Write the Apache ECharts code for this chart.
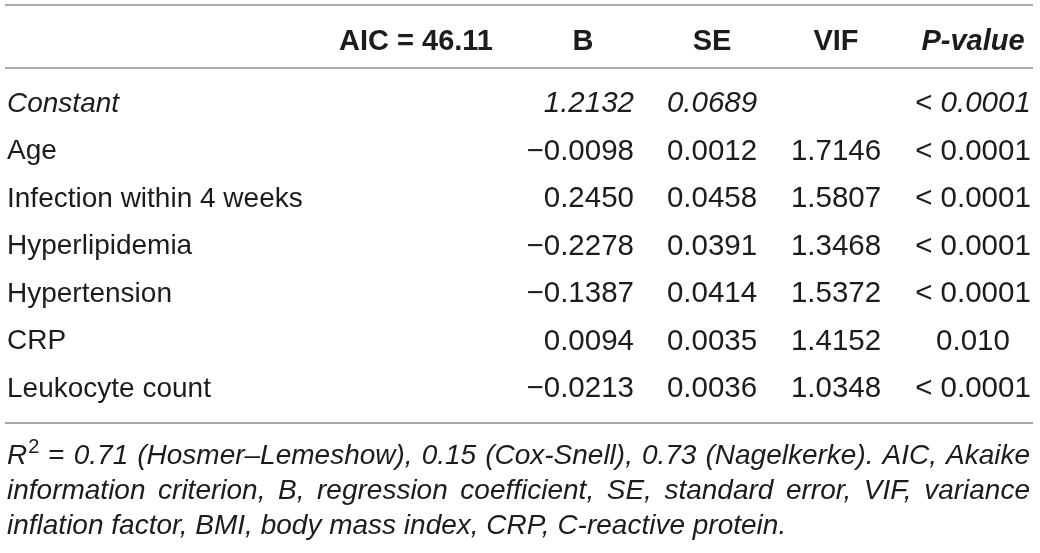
<!DOCTYPE html>
<html>
<head>
<meta charset="utf-8">
<script src="https://cdn.jsdelivr.net/npm/echarts@6/dist/echarts.min.js"></script>
<style>
html,body{margin:0;padding:0;background:#fff;}
#chart{width:1040px;height:553px;}
</style>
</head>
<body>
<div id="chart"></div>
<script>
// ---- Data ----
const rowLabels = ['Constant', 'Age', 'Infection within 4 weeks', 'Hyperlipidemia', 'Hypertension', 'CRP', 'Leukocyte count'];
const coefB = [1.2132, -0.0098, 0.2450, -0.2278, -0.1387, 0.0094, -0.0213];
const stdErr = [0.0689, 0.0012, 0.0458, 0.0391, 0.0414, 0.0035, 0.0036];
const vifValues = [null, 1.7146, 1.5807, 1.3468, 1.5372, 1.4152, 1.0348];
const pValues = ['< 0.0001', '< 0.0001', '< 0.0001', '< 0.0001', '< 0.0001', '0.010', '< 0.0001'];
const headerLabels = ['AIC = 46.11', 'B', 'SE', 'VIF', 'P-value'];
const italicRows = ['Constant'];
const footnoteLines = [
  ['R²', '=', '0.71', '(Hosmer–Lemeshow),', '0.15', '(Cox-Snell),', '0.73', '(Nagelkerke).', 'AIC,', 'Akaike'],
  ['information', 'criterion,', 'B,', 'regression', 'coefficient,', 'SE,', 'standard', 'error,', 'VIF,', 'variance'],
  ['inflation', 'factor,', 'BMI,', 'body', 'mass', 'index,', 'CRP,', 'C-reactive', 'protein.']
];

// ---- Layout / style ----
const W = 1040;
const FONT = '"Liberation Sans", Arial, Helvetica, sans-serif';
const FS = 28;
const NFS = 29.5;
const INK = '#1e1b1c';
const RULE = '#8e8e8e';
const colLayout = [
  { x: 7, align: 'left' },
  { x: 634, align: 'right' },
  { x: 712, align: 'center' },
  { x: 836, align: 'center' },
  { x: 973, align: 'center' }
];
const headerLayout = [
  { x: 493, align: 'right' },
  { x: 583, align: 'center' },
  { x: 712, align: 'center' },
  { x: 836, align: 'center' },
  { x: 973, align: 'center' }
];

function fmt(v) {
  if (v === null || v === undefined) return '';
  const s = Math.abs(v).toFixed(4);
  return v < 0 ? '\u2212' + s : s;
}

const chart = echarts.init(document.getElementById('chart'), null, { renderer: 'canvas' });

function richFor(size) {
  return {
    n: { fontFamily: FONT, fontSize: size, color: INK },
    i: { fontFamily: FONT, fontSize: size, color: INK, fontStyle: 'italic' }
  };
}

function cellText(col, i) {
  const italic = italicRows.indexOf(rowLabels[i]) >= 0;
  let txt;
  if (col === 0) txt = rowLabels[i];
  else if (col === 1) txt = fmt(coefB[i]);
  else if (col === 2) txt = fmt(stdErr[i]);
  else if (col === 3) txt = fmt(vifValues[i]);
  else txt = pValues[i];
  if (!txt) return '';
  if (!italic) return '{n|' + txt + '}';
  if (col === 4 && txt.indexOf('< ') === 0) return '{n|< }{i|' + txt.slice(2) + '}';
  return '{i|' + txt + '}';
}

const series = colLayout.map((c, col) => ({
  type: 'scatter',
  symbolSize: 0,
  silent: true,
  itemStyle: { opacity: 1 },
  data: rowLabels.map((r, i) => ({
    value: [c.x, r],
    label: { formatter: cellText(col, i) }
  })),
  label: {
    show: true,
    position: 'inside',
    align: c.align,
    verticalAlign: 'middle',
    color: INK,
    opacity: 1,
    fontFamily: FONT,
    fontSize: col === 0 ? FS : NFS,
    rich: richFor(col === 0 ? FS : NFS)
  }
}));

// ---- Graphic: rules, headers, footnote ----
const graphics = [];
[5, 68, 423].forEach(y => {
  graphics.push({
    type: 'line',
    shape: { x1: 5, y1: y, x2: 1033, y2: y },
    style: { stroke: RULE, lineWidth: 1.6 },
    silent: true
  });
});
headerLabels.forEach((h, k) => {
  graphics.push({
    type: 'text',
    x: headerLayout[k].x,
    y: 42,
    style: {
      text: h,
      font: (k === 4 ? 'italic ' : '') + 'bold 29px ' + FONT,
      fill: INK,
      align: headerLayout[k].align,
      verticalAlign: 'middle'
    }
  });
});

// justified footnote
const cvs = document.createElement('canvas');
const ctx = cvs.getContext('2d');
const FNFONT = 'italic ' + FS + 'px ' + FONT;
const SUPFONT = 'normal 20px ' + FONT;
function measure(word) {
  if (word === 'R²') {
    ctx.font = FNFONT; const a = ctx.measureText('R').width;
    ctx.font = SUPFONT; const b = ctx.measureText('2').width;
    return a + b + 1;
  }
  ctx.font = word === '=' ? 'normal ' + FS + 'px ' + FONT : FNFONT;
  return ctx.measureText(word).width;
}
const fnLeft = 7, fnRight = 1030;
const fnY = [456, 491, 526];
footnoteLines.forEach((words, li) => {
  const widths = words.map(measure);
  const total = widths.reduce((a, b) => a + b, 0);
  ctx.font = FNFONT;
  const space = ctx.measureText(' ').width;
  const last = li === footnoteLines.length - 1;
  const gap = last ? space : (fnRight - fnLeft - total) / (words.length - 1);
  let x = fnLeft;
  words.forEach((w, k) => {
    if (w === 'R²') {
      ctx.font = FNFONT; const a = ctx.measureText('R').width;
      graphics.push({ type: 'text', x: x, y: fnY[li], style: { text: 'R', font: FNFONT, fill: INK, align: 'left', verticalAlign: 'middle' } });
      graphics.push({ type: 'text', x: x + a + 1, y: fnY[li] - 9, style: { text: '2', font: SUPFONT, fill: INK, align: 'left', verticalAlign: 'middle' } });
    } else {
      const upright = (w === '=');
      graphics.push({ type: 'text', x: x, y: fnY[li], style: { text: w, font: (upright ? 'normal ' : 'italic ') + FS + 'px ' + FONT, fill: INK, align: 'left', verticalAlign: 'middle' } });
    }
    x += widths[k] + gap;
  });
});

chart.setOption({
  animation: false,
  backgroundColor: '#ffffff',
  grid: { left: 0, right: 0, top: 104, height: 285, containLabel: false },
  xAxis: { type: 'value', min: 0, max: W, show: false },
  yAxis: { type: 'category', data: rowLabels, inverse: true, boundaryGap: false, show: false },
  series: series,
  graphic: graphics
});
</script>
</body>
</html>
